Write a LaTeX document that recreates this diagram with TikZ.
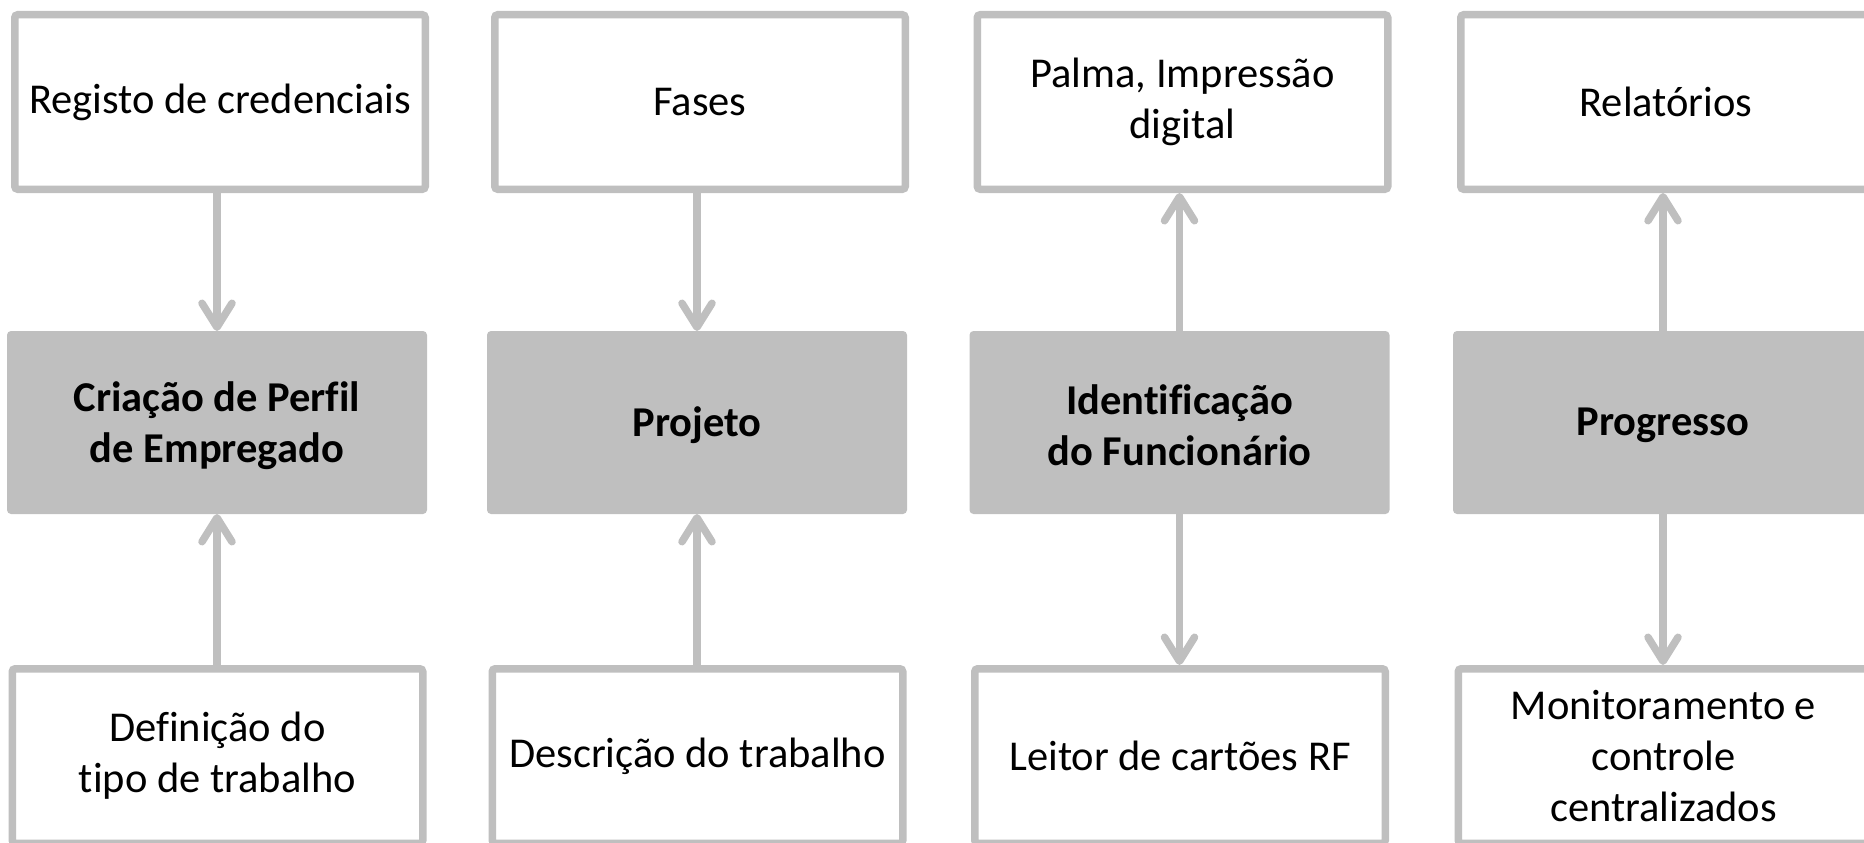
\documentclass[tikz,border=0pt]{standalone}
\usepackage{fontspec}
\setmainfont{Carlito}[Ligatures=NoCommon]
\usetikzlibrary{arrows.meta}
\definecolor{boxgray}{HTML}{BFBFBF}
\begin{document}
\begin{tikzpicture}[x=1pt,y=-1pt,
  outerbox/.style={draw=boxgray, line width=7.5pt, fill=white, rounded corners=3pt,
    minimum width=410.5pt, minimum height=174.5pt, inner sep=0pt, align=center,
    font=\fontsize{42.5}{51}\selectfont},
  midbox/.style={fill=boxgray, rounded corners=4pt, minimum width=420pt,
    minimum height=183pt, inner sep=0pt, outer sep=0pt},
  midtext/.style={inner sep=0pt, align=center, yshift=-3pt,
    font=\fontsize{42.5}{51}\selectfont\bfseries},
  conn/.style={draw=boxgray, line width=7.5pt,
    -{Straight Barb[length=24pt,width=30pt,round]}}
]
\useasboundingbox (0,0) rectangle (1864,843);
\clip (0,0) rectangle (1864,843);

% middle row
\node[midbox] (m1) at (217,422.5) {};
\node[midbox] (m2) at (697,422.5) {};
\node[midbox] (m3) at (1179.5,422.5) {};
\node[midbox] (m4) at (1663,422.5) {};
\node[midtext] (m1t) at (m1.center) {Criação de Perfil\\de Empregado};
\node[midtext] (m2t) at (m2.center) {Projeto};
\node[midtext] (m3t) at (m3.center) {Identificação\\do Funcionário};
\node[midtext] (m4t) at (m4.center) {Progresso};

% top row
\node[outerbox] (t1) at (220,102) {Registo de credenciais};
\node[outerbox] (t2) at (700,102) {Fases};
\node[outerbox] (t3) at (1182.5,102) {Palma, Impressão\\digital};
\node[outerbox] (t4) at (1666,102) {Relatórios};

% bottom row
\node[outerbox] (b1) at (217.5,756) {Definição do\\tipo de trabalho};
\node[outerbox] (b2) at (697.5,756) {Descrição do trabalho};
\node[outerbox] (b3) at (1180,756) {Leitor de cartões RF};
\node[outerbox] (b4) at (1663.5,756) {Monitoramento e\\controle\\centralizados};

% connectors
\draw[conn] (t1.south -| m1.north) -- (m1.north);
\draw[conn] (b1.north -| m1.south) -- (m1.south);
\draw[conn] (t2.south -| m2.north) -- (m2.north);
\draw[conn] (b2.north -| m2.south) -- (m2.south);
\draw[conn] (m3.north) -- (t3.south -| m3.north);
\draw[conn] (m3.south) -- (b3.north -| m3.south);
\draw[conn] (m4.north) -- (t4.south -| m4.north);
\draw[conn] (m4.south) -- (b4.north -| m4.south);
\end{tikzpicture}
\end{document}
